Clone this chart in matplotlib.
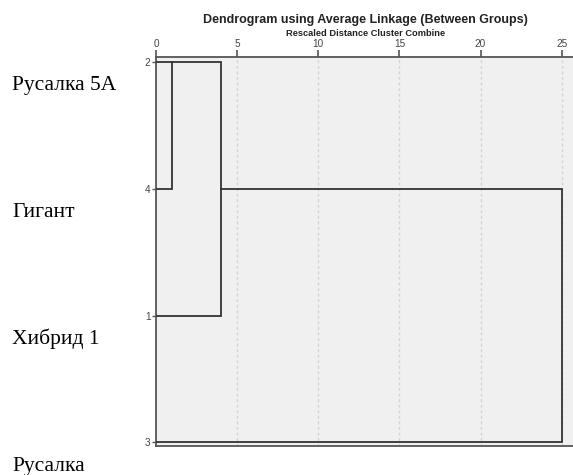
import matplotlib.pyplot as plt

# leaves, top to bottom, and the names printed beside them
leaf_ids = [2, 4, 1, 3]
leaf_names = ['Русалка 5А', 'Гигант', 'Хибрид 1', 'Русалка']

# agglomeration schedule (rescaled distances 0..25)
merge_a = [2, 1, 1]
merge_b = [4, 2, 3]
merge_dist = [1, 4, 25]
merge_row_leaf = [2, 4, 3]   # row where the joined cluster continues

x_ticks = [0, 5, 10, 15, 20, 25]

fig = plt.figure(figsize=(5.73, 4.75), dpi=100)
ax = fig.add_axes([0.2723, 0.061, 0.7277, 0.819])
ax.set_facecolor('#f0f0f0')

row_of = {leaf: i for i, leaf in enumerate(leaf_ids)}
state = {leaf: (row_of[leaf], 0) for leaf in leaf_ids}

for a, b, d, out in zip(merge_a, merge_b, merge_dist, merge_row_leaf):
    ya, xa = state[a]
    yb, xb = state[b]
    ax.plot([xa, d, d, xb], [ya, ya, yb, yb], color='#333333', lw=1.3,
            solid_joinstyle='miter', zorder=3)
    state[a] = (row_of[out], d)
    del state[b]

for t in x_ticks[1:]:
    ax.axvline(t, color='#d4d4d4', lw=1.0, ls=(0, (2, 2)), zorder=1)

ax.set_xlim(0, 25.7)
ax.set_ylim(3.03, -0.04)

ax.xaxis.tick_top()
ax.set_xticks(x_ticks)
ax.set_xticklabels([str(t) for t in x_ticks], fontsize=7.2, color='#444444',
                   family='Liberation Sans')
ax.tick_params(axis='x', direction='out', length=5, width=1.2, color='#555555', pad=1)
ax.set_yticks(range(len(leaf_ids)))
ax.set_yticklabels([str(l) for l in leaf_ids], fontsize=7.2, color='#444444',
                   family='Liberation Sans')
ax.tick_params(axis='y', direction='out', length=3, width=1.0, color='#555555', pad=1)

for s in ax.spines.values():
    s.set_color('#555555')
    s.set_linewidth(1.3)
ax.spines['right'].set_visible(False)

fig.text(0.637, 1 - 20 / 475, 'Dendrogram using Average Linkage (Between Groups)',
         ha='center', va='center', fontsize=9, fontweight='bold',
         family='Liberation Sans', color='#222222')
fig.text(0.638, 1 - 33 / 475, 'Rescaled Distance Cluster Combine',
         ha='center', va='center', fontsize=6.7, fontweight='bold',
         family='Liberation Sans', color='#222222')

label_base = [90, 217, 344, 471]
for name, y in zip(leaf_names, label_base):
    fig.text(12 / 573, 1 - y / 475, name, ha='left', va='baseline',
             fontsize=15.5, family='Liberation Serif', color='black')

fig.savefig('out.png', dpi=100)
